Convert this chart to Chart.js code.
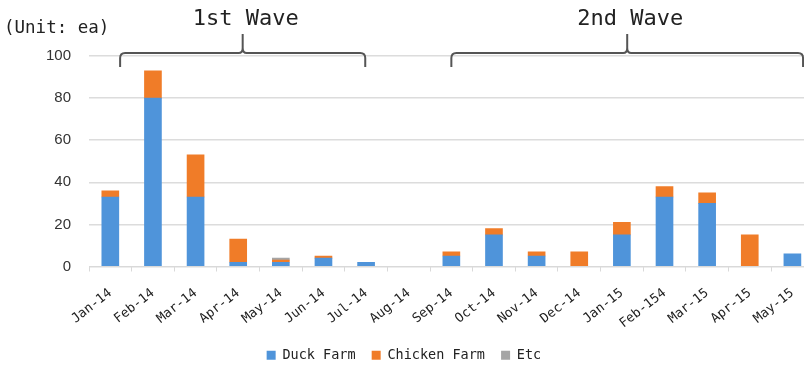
<!DOCTYPE html>
<html>
<head>
<meta charset="utf-8">
<script src="https://cdn.jsdelivr.net/npm/chart.js@4/dist/chart.umd.min.js"></script>
<style>
  html, body { margin: 0; padding: 0; background: #fff; overflow: hidden; }
  #wrap { width: 816px; height: 366px; position: relative; }
</style>
</head>
<body>
<div id="wrap"><canvas id="c"></canvas></div>
<script>
// Monthly outbreak counts by farm type
const months = ['Jan-14','Feb-14','Mar-14','Apr-14','May-14','Jun-14','Jul-14','Aug-14',
                'Sep-14','Oct-14','Nov-14','Dec-14','Jan-15','Feb-154','Mar-15','Apr-15','May-15'];
const duckFarm    = [33, 80, 33, 2, 2, 4, 2, 0, 5, 15, 5, 0, 15, 33, 30, 0, 6];
const chickenFarm = [3, 13, 20, 11, 1, 1, 0, 0, 2, 3, 2, 7, 6, 5, 5, 15, 0];
const etcFarm     = [0, 0, 0, 0, 1, 0, 0, 0, 0, 0, 0, 0, 0, 0, 0, 0, 0];
const yTicks      = [0, 20, 40, 60, 80, 100];

// Outbreak periods, as category index spans
const waves = [
  { label: '1st Wave', from: 0.23, to: 5.98 },
  { label: '2nd Wave', from: 8.0,  to: 16.25 }
];

const monoFont = "'DejaVu Sans Mono', monospace";

// empty months draw no bar at all
const bars = arr => arr.map(v => (v === 0 ? null : v));

const wavePlugin = {
  id: 'waves',
  afterDraw(chart) {
    const ctx = chart.ctx;
    const x = chart.scales.x;
    const top = chart.chartArea.top;
    const lineY = top - 3;
    ctx.save();
    ctx.strokeStyle = '#555';
    ctx.lineWidth = 2;
    ctx.fillStyle = '#222';
    ctx.textAlign = 'center';
    ctx.textBaseline = 'middle';
    ctx.font = "22px " + monoFont;
    waves.forEach(w => {
      const x1 = x.getPixelForValue(w.from);
      const x2 = x.getPixelForValue(w.to);
      const xm = (x1 + x2) / 2;
      ctx.beginPath();
      ctx.moveTo(x1, lineY + 14);
      ctx.lineTo(x1, lineY + 5);
      ctx.quadraticCurveTo(x1, lineY, x1 + 5, lineY);
      ctx.lineTo(xm - 4, lineY);
      ctx.quadraticCurveTo(xm, lineY, xm, lineY - 5);
      ctx.lineTo(xm, lineY - 19);
      ctx.moveTo(xm, lineY - 5);
      ctx.quadraticCurveTo(xm, lineY, xm + 4, lineY);
      ctx.lineTo(x2 - 5, lineY);
      ctx.quadraticCurveTo(x2, lineY, x2, lineY + 5);
      ctx.lineTo(x2, lineY + 14);
      ctx.stroke();
      ctx.fillText(w.label, xm + 3, 19);
    });
    ctx.textAlign = 'left';
    ctx.font = "17.5px " + monoFont;
    ctx.fillText('(Unit: ea)', 4, 28);
    ctx.restore();
  }
};

new Chart(document.getElementById('c'), {
  type: 'bar',
  data: {
    labels: months,
    datasets: [
      { label: 'Duck Farm',    data: bars(duckFarm),    backgroundColor: '#4f94da' },
      { label: 'Chicken Farm', data: bars(chickenFarm), backgroundColor: '#f07c28' },
      { label: 'Etc',          data: bars(etcFarm),     backgroundColor: '#a5a5a5' }
    ]
  },
  options: {
    responsive: true,
    maintainAspectRatio: false,
    animation: false,
    layout: { padding: { top: 56, left: 0, right: 0, bottom: -6 } },
    datasets: { bar: { barThickness: 17 } },
    plugins: {
      legend: {
        position: 'bottom',
        labels: {
          boxWidth: 9, boxHeight: 9, padding: 8,
          color: '#222',
          font: { family: monoFont, size: 13.5 },
          generateLabels(chart) {
            const items = Chart.defaults.plugins.legend.labels.generateLabels(chart);
            items.forEach(it => { it.text = it.text + ' '; });
            return items;
          }
        }
      },
      tooltip: { enabled: false }
    },
    scales: {
      x: {
        stacked: true,
        afterFit(s) { s.height = 74; },
        border: { display: true, color: '#d9d9d9' },
        grid: { drawOnChartArea: false, drawTicks: true, tickLength: 5, color: '#d9d9d9', offset: true },
        ticks: {
          minRotation: 38, maxRotation: 38, autoSkip: false, padding: 14,
          color: '#222',
          font: { family: monoFont, size: 13 }
        }
      },
      y: {
        stacked: true,
        min: 0, max: 100,
        afterFit(s) { s.width = 89; },
        afterBuildTicks(s) { s.ticks = yTicks.map(v => ({ value: v })); },
        border: { display: false },
        grid: { color: '#dcdcdc', drawTicks: false, lineWidth: 1.5 },
        ticks: {
          padding: 18,
          color: '#333',
          font: { family: "'Liberation Sans', Arial, sans-serif", size: 15 }
        }
      }
    }
  },
  plugins: [wavePlugin]
});
</script>
</body>
</html>
